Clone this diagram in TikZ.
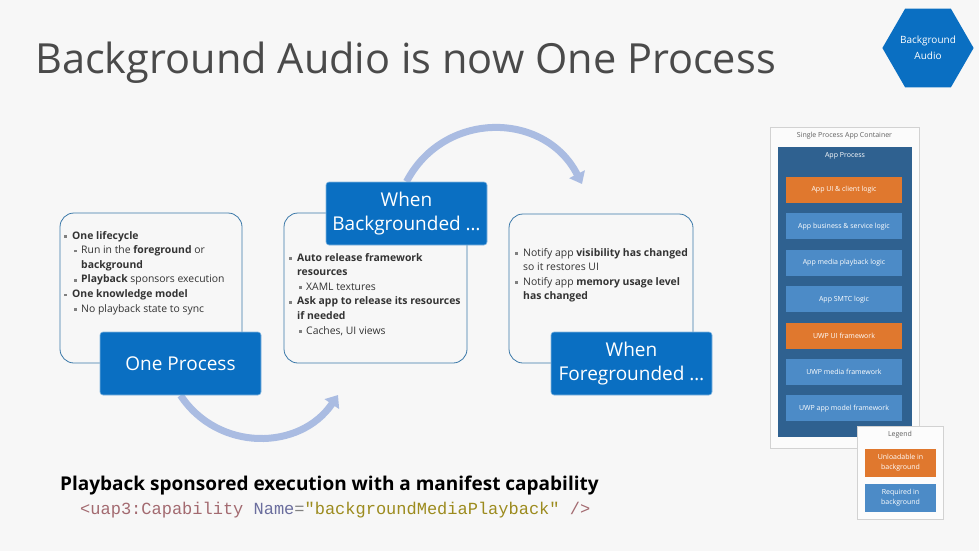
\documentclass[tikz,border=0pt]{standalone}
\usepackage{fontspec}
\setmainfont{Open Sans}
\setmonofont{Liberation Mono}
\usetikzlibrary{positioning,shapes.geometric,arrows.meta}
\pgfdeclarelayer{slide}
\pgfdeclarelayer{behind}
\pgfsetlayers{slide,behind,main}

\definecolor{slidebg}{HTML}{F7F7F7}
\definecolor{ttlgray}{HTML}{4A4A4A}
\definecolor{bodygray}{HTML}{333333}
\definecolor{mainblue}{HTML}{0A6FC2}
\definecolor{edgeblue}{HTML}{3A78A8}
\definecolor{arcblue}{HTML}{AABCE2}
\definecolor{layerblue}{HTML}{4C8BC7}
\definecolor{procblue}{HTML}{2F6190}
\definecolor{layerorange}{HTML}{E0782E}
\definecolor{codetag}{HTML}{A36A70}
\definecolor{codeattr}{HTML}{6B6E9E}
\definecolor{codestr}{HTML}{9C8B1E}

\newcommand\sqbul{\textcolor{gray}{\rule[0.25ex]{2.6pt}{2.6pt}}}
\newcommand\itA[1]{\makebox[8pt][l]{\sqbul}#1}
\newcommand\itB[1]{\hspace*{10pt}\makebox[7pt][l]{\sqbul}#1}

\tikzset{
  card/.style={draw=edgeblue, line width=0.8pt, rounded corners=14pt, fill=slidebg},
  stage/.style={fill=mainblue, draw=mainblue!50!white, line width=0.6pt,
    rounded corners=3pt, text=white, align=center, minimum width=161,
    minimum height=63, inner sep=0pt, font=\fontsize{19}{23.5}\selectfont},
  bullets/.style={anchor=north west, align=left, inner sep=0pt, text=bodygray,
    font=\fontsize{10.4}{14.6}\selectfont},
  layer/.style={fill=layerblue, text=white, minimum width=116, minimum height=26,
    inner sep=0pt, font=\fontsize{7}{9}\selectfont},
  unload/.style={layer, fill=layerorange},
  keyitem/.style={layer, minimum width=71, minimum height=28, align=center,
    font=\fontsize{7}{10}\selectfont},
  flow/.style={draw=arcblue, line width=7pt, -{Triangle[length=11pt,width=17pt]}}
}

\begin{document}
\begin{tikzpicture}[x=1pt, y=-1pt]
  \begin{pgfonlayer}{slide}
    \fill[slidebg] (0,0) rectangle (979,551);
  \end{pgfonlayer}
  \useasboundingbox (0,0) rectangle (979,551);

  % title and badge
  \node (title) [anchor=base west, inner sep=0pt, text=ttlgray,
    font=\fontsize{41.5}{48}\selectfont] at (35,74) {Background Audio is now One Process};
  \node (badge) [regular polygon, regular polygon sides=6, minimum size=91,
    fill=mainblue, text=white, align=center, inner sep=0pt,
    font=\fontsize{10}{16}\selectfont] at (928,48) {Background\\Audio};

  % the three cards
  \node (lcard) [card, minimum width=182, minimum height=150] at (151,288) {};
  \node (mcard) [card, minimum width=183, minimum height=150] at (375.5,288) {};
  \node (rcard) [card, minimum width=184, minimum height=149] at (601,288.5) {};

  \node (ltext) [bullets] at (64,231) {%
    \itA{\textbf{One lifecycle}}\\
    \itB{Run in the \textbf{foreground} or}\\
    \hspace*{17pt}\textbf{background}\\
    \itB{\textbf{Playback} sponsors execution}\\
    \itA{\textbf{One knowledge model}}\\
    \itB{No playback state to sync}};
  \node (mtext) [bullets] at (289,253) {%
    \itA{\textbf{Auto release framework}}\\
    \hspace*{8pt}\textbf{resources}\\
    \itB{XAML textures}\\
    \itA{\textbf{Ask app to release its resources}}\\
    \hspace*{8pt}\textbf{if needed}\\
    \itB{Caches, UI views}};
  \node (rtext) [bullets] at (515,248) {%
    \itA{Notify app \textbf{visibility has changed}}\\
    \hspace*{8pt}so it restores UI\\
    \itA{Notify app \textbf{memory usage level}}\\
    \hspace*{8pt}\textbf{has changed}};

  % stages
  \node (onep) [stage] at (180.5,363.5) {One Process};
  \node (bgd)  [stage] at (406.5,213.5) {When\\Backgrounded \dots};
  \node (fgd)  [stage] at (631.5,363.5) {When\\Foregrounded \dots};

  \coordinate (fgtip) at (582,184);
  \coordinate (bgtip) at (338,395);
  \begin{pgfonlayer}{behind}
    \draw[flow] (bgd.north) .. controls (444,110) and (545,111) .. (fgtip);
    \draw[flow] (onep.south) .. controls (218,452) and (300,451) .. (bgtip);
  \end{pgfonlayer}

  % container stack
  \node (box) [draw=gray!35, fill=white!50!slidebg, anchor=north west,
    minimum width=149, minimum height=321, inner sep=0pt] at (770,127) {};
  \node (boxlbl) [text=gray!75!black, font=\fontsize{7}{8}\selectfont] at (844.5,136)
    {Single Process App Container};
  \node (proc) [fill=procblue, anchor=north west, minimum width=134,
    minimum height=290, inner sep=0pt] at (778,147) {};
  \node (proclbl) [text=white, font=\fontsize{7}{8}\selectfont] at (845,156) {App Process};
  \node (uilogic)  [unload] at (844,190) {App UI \& client logic};
  \node (business) [layer, below=10pt of uilogic]  {App business \& service logic};
  \node (media)    [layer, below=10pt of business] {App media playback logic};
  \node (smtc)     [layer, below=10pt of media]    {App SMTC logic};
  \node (uwpui)    [unload, below=10pt of smtc]    {UWP UI framework};
  \node (uwpmedia) [layer, below=10pt of uwpui]    {UWP media framework};
  \node (uwpmodel) [layer, below=10pt of uwpmedia] {UWP app model framework};

  % legend
  \node (legend) [draw=gray!35, fill=white!60!slidebg, anchor=north west,
    minimum width=86, minimum height=93, inner sep=0pt] at (857,426) {};
  \node (leglbl) [text=gray!75!black, font=\fontsize{7}{8}\selectfont] at (900,435) {Legend};
  \node (keyorange) [keyitem, fill=layerorange] at (900.5,463) {Unloadable in\\background};
  \node (keyblue)   [keyitem] at (900.5,498) {Required in\\background};

  % manifest line
  \node (manifest) [anchor=base west, inner sep=0pt, text=black,
    font=\bfseries\fontsize{19}{22}\selectfont] at (60,490)
    {Playback sponsored execution with a manifest capability};
  \node (code) [anchor=base west, inner sep=0pt, font=\ttfamily\fontsize{17}{20}\selectfont]
    at (80,514) {\textcolor{codetag}{<uap3:Capability} \textcolor{codeattr}{Name}\textcolor{gray}{=}\textcolor{codestr}{"backgroundMediaPlayback"} \textcolor{codetag}{/>}};
\end{tikzpicture}
\end{document}
